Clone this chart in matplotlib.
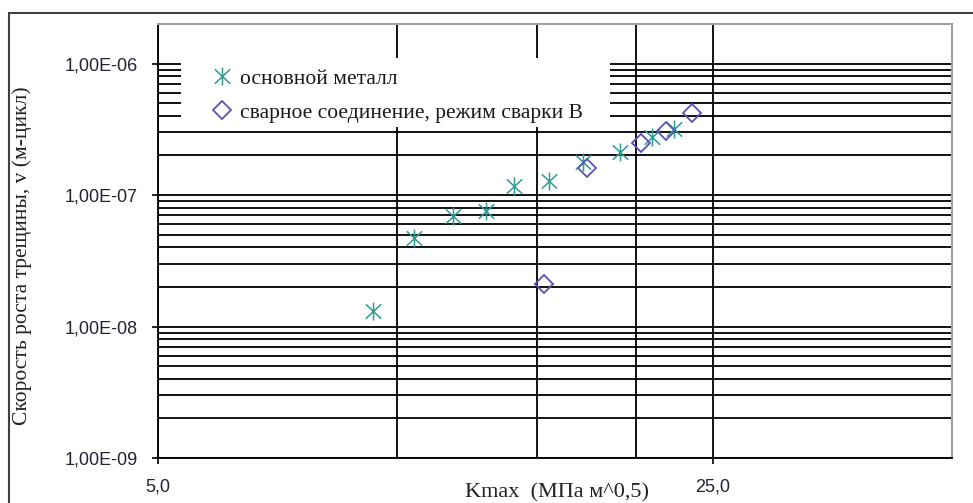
import matplotlib
matplotlib.use("Agg")
import matplotlib.pyplot as plt
from matplotlib.patches import Rectangle
from matplotlib.path import Path
from matplotlib.ticker import LogLocator, FuncFormatter, NullFormatter

# Kmax (MPa m^0.5) vs crack growth rate v (m/cycle)
base_k = [9.32, 10.49, 11.76, 12.95, 14.04, 15.54, 17.15, 19.10, 20.95, 22.31]
base_v = [1.32e-8, 4.75e-8, 6.96e-8, 7.5e-8, 1.18e-7, 1.29e-7, 1.77e-7, 2.11e-7, 2.77e-7, 3.18e-7]
weld_k = [15.31, 17.37, 20.31, 21.82, 23.52]
weld_v = [2.11e-8, 1.61e-7, 2.49e-7, 3.05e-7, 4.21e-7]
labels = ["основной металл", "сварное соединение, режим сварки В"]

W, H = 973, 503
fig = plt.figure(figsize=(W / 100, H / 100), dpi=100)
ax = fig.add_axes([158 / W, 1 - 458 / H, (952 - 158) / W, (458 - 24) / H])

# outer chart frame (runs off the right/bottom edge like the original)
fig.add_artist(Rectangle((9 / W, -0.05), 1.05, 1 - 13 / H + 0.05,
                         transform=fig.transFigure, fill=False,
                         edgecolor="#404040", lw=1.5))

ax.set_xscale("log", base=5)
ax.set_yscale("log")
ax.set_xlim(5, 50)
ax.set_ylim(1e-9, 2e-6)

ax.xaxis.set_major_locator(LogLocator(base=5))
ax.xaxis.set_minor_locator(LogLocator(base=5, subs=(2, 3, 4)))
ax.xaxis.set_major_formatter(FuncFormatter(lambda v, p: f"{v:.1f}".replace(".", ",")))
ax.xaxis.set_minor_formatter(NullFormatter())
ax.yaxis.set_major_locator(LogLocator(base=10))
ax.yaxis.set_minor_locator(LogLocator(base=10, subs=range(2, 10)))
ax.yaxis.set_major_formatter(FuncFormatter(lambda v, p: f"{v:.2E}".replace(".", ",")))
ax.yaxis.set_minor_formatter(NullFormatter())

ax.set_axisbelow(True)
ax.grid(True, which="both", color="black", lw=1.3)
ax.tick_params(which="minor", length=0)
ax.tick_params(which="major", length=4, width=1.2, color="black", direction="out",
               labelsize=13, labelcolor="#222233")
ax.tick_params(axis="x", pad=11)
ax.tick_params(axis="y", pad=10.5)
for lab in ax.get_xticklabels() + ax.get_yticklabels():
    lab.set_fontfamily("Liberation Sans")

for side in ["left", "bottom"]:
    ax.spines[side].set_color("black")
    ax.spines[side].set_linewidth(1.3)
for side in ["top", "right"]:
    ax.spines[side].set_color("#a0a0a0")
    ax.spines[side].set_linewidth(1.5)

# white box behind legend
inv = ax.transAxes.inverted()
(x0, y0), (x1, y1) = inv.transform([(181, H - 127), (610, H - 58)])
ax.add_patch(Rectangle((x0, y0), x1 - x0, y1 - y0, transform=ax.transAxes,
                       facecolor="white", edgecolor="none", zorder=1))

# Excel-style asterisk: vertical bar plus an X
star = Path([(0, -1), (0, 1), (-0.85, -0.8), (0.85, 0.8), (-0.85, 0.8), (0.85, -0.8)],
            [Path.MOVETO, Path.LINETO] * 3)

ax.plot(base_k, base_v, linestyle="none", marker=star, ms=13, mew=1.1,
        color="#2e9c94", label=labels[0], zorder=3)
ax.plot(weld_k, weld_v, linestyle="none", marker="D", ms=9, mew=1.3,
        mfc="none", color="#5a52b5", label=labels[1], zorder=3)

leg = ax.legend(loc="upper left", bbox_to_anchor=(x0, y1), frameon=False,
                prop={"family": "Liberation Serif", "size": 15.5},
                handlelength=1.0, handletextpad=0.32, labelspacing=0.65,
                borderpad=0.3, borderaxespad=0.0)
leg.set_zorder(4)
for t in leg.get_texts():
    t.set_color("#1a1a1a")
# nudge the legend to match the original placement
leg.set_bbox_to_anchor((x0 + 24 / (952 - 158), y1 - 4 / (458 - 24)), transform=ax.transAxes)

fig.text(22 / W, 1 - 256 / H, "Скорость роста трещины, v (м-цикл)", rotation=90,
         ha="center", va="center", fontsize=15.5, family="Liberation Serif", color="#222")
fig.text(557 / W, 1 - 493 / H, "Kmax  (МПа м^0,5)", ha="center", va="center",
         fontsize=16, family="Liberation Serif", color="#222")

fig.savefig("out.png", dpi=100)
